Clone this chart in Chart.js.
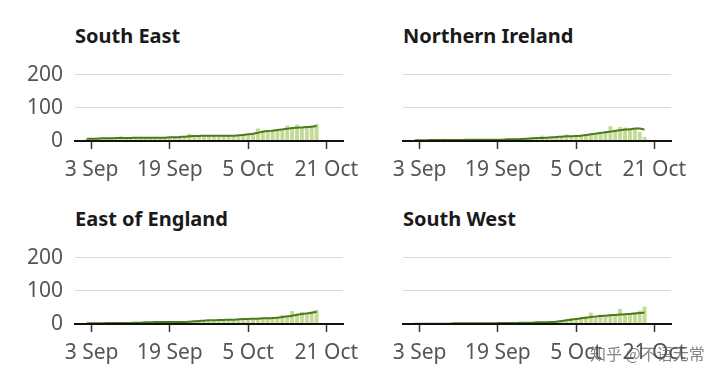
<!DOCTYPE html>
<html>
<head>
<meta charset="utf-8">
<script src="https://cdn.jsdelivr.net/npm/chart.js@4.4.0/dist/chart.umd.min.js"></script>
<style>
  body { margin: 0; background: #fff; width: 720px; height: 383px; overflow: hidden; position: relative; font-family: "Noto Sans", sans-serif; }
  .panel { position: absolute; width: 383px; height: 133px; }
  .title { position: absolute; font-size: 20px; font-weight: bold; color: #1a1a1a; line-height: 28px; white-space: nowrap; }
  .wm { position: absolute; left: 590px; top: 341px; font-family: "Noto Sans CJK SC", sans-serif; font-size: 16px; color: rgba(90,90,90,0.75); white-space: nowrap; }
</style>
</head>
<body>
<div class="title" style="left:75px;top:22px">South East</div>
<div class="title" style="left:403px;top:22px">Northern Ireland</div>
<div class="title" style="left:75px;top:205px">East of England</div>
<div class="title" style="left:403px;top:205px">South West</div>
<div class="panel" style="left:0;top:50px"><canvas id="c1"></canvas></div>
<div class="panel" style="left:328px;top:50px"><canvas id="c2"></canvas></div>
<div class="panel" style="left:0;top:233px"><canvas id="c3"></canvas></div>
<div class="panel" style="left:328px;top:233px"><canvas id="c4"></canvas></div>
<div class="wm">知乎 @不语无常</div>
<script>
// days counted from 3 Sep (day 0); first value is 2 Sep, last is 19 Oct
const days = [-1,0,1,2,3,4,5,6,7,8,9,10,11,12,13,14,15,16,17,18,19,20,21,22,23,24,25,26,27,28,29,30,31,32,33,34,35,36,37,38,39,40,41,42,43,44,45,46];

const tickDays = [0, 16, 32, 48];
const tickLabels = ['3 Sep', '19 Sep', '5 Oct', '21 Oct'];
const yTicks = [0, 100, 200];

// South East
const seDaily = [6,7,6,8,7,9,8,14,9,10, 11,9,10,12,11,12,10,11,12,13, 15,22,16,15,14,16,15,14,19,15, 14,16,17,20,24,38,32,30,31,33, 34,47,38,50,42,44,46,52];
const seAvg   = [7,7,7,8,8,8,9,9,9,9, 10,10,10,10,10,10,10,11,11,12, 13,14,15,15,16,16,16,16,16,16, 16,17,18,20,22,25,28,30,31,33, 35,37,39,40,41,42,43,45];
// Northern Ireland
const niDaily = [2,3,2,3,3,4,7,3,4,3, 4,3,4,5,4,3,4,5,4,6, 5,7,6,8,9,10,16,11,10,12, 13,19,14,15,17,20,22,24,26,30, 44,34,42,40,36,38,27,12];
const niAvg   = [2,2,2,3,3,3,3,3,3,3, 3,4,4,4,4,4,4,4,4,5, 5,5,6,7,8,9,9,10,11,12, 13,14,14,15,16,18,20,22,24,26, 28,30,32,34,35,37,37,34];
// East of England
const eeDaily = [2,3,2,3,3,2,3,4,3,3, 4,3,5,6,5,7,6,5,6,7, 6,7,8,10,9,11,12,13,12,14, 13,15,16,14,17,16,15,18,20,22, 27,24,39,30,36,33,38,42];
const eeAvg   = [2,2,2,2,3,3,3,3,3,3, 4,4,5,5,6,6,6,6,6,6, 6,7,8,9,10,11,11,12,12,13, 13,14,15,15,16,16,17,17,18,19, 21,23,25,28,30,32,34,37];
// South West
const swDaily = [1,1,2,1,2,1,2,2,1,2, 2,2,3,2,2,3,3,2,3,4, 3,4,4,5,4,6,5,7,6,8, 10,14,18,17,20,22,34,19,28,25, 30,29,45,30,32,35,40,52];
const swAvg   = [1,1,1,1,1,1,1,1,2,2, 2,2,2,2,2,2,2,3,3,3, 3,3,4,4,4,5,5,5,6,7, 9,11,13,15,17,19,21,22,24,25, 26,27,28,29,30,31,33,34];

const barColor = '#c5da96';
const lineColor = '#4a7a1c';
const labelColor = '#555555';

function pts(vals) {
  return vals.map((v, i) => ({ x: days[i], y: v }));
}

function makePanel(id, daily, avg, showY) {
  new Chart(document.getElementById(id), {
    type: 'bar',
    data: {
      datasets: [
        {
          type: 'line',
          data: pts(avg),
          borderColor: lineColor,
          borderWidth: 2,
          pointRadius: 0,
          tension: 0.3,
          order: 0
        },
        {
          type: 'bar',
          data: pts(daily),
          backgroundColor: barColor,
          categoryPercentage: 1,
          barPercentage: 0.8,
          order: 1
        }
      ]
    },
    options: {
      responsive: true,
      maintainAspectRatio: false,
      animation: false,
      layout: { padding: { top: 24, right: 40, bottom: 0, left: 0 } },
      plugins: { legend: { display: false }, tooltip: { enabled: false } },
      scales: {
        x: {
          type: 'linear',
          min: -3.4,
          max: 51.4,
          offset: false,
          afterBuildTicks: s => { s.ticks = tickDays.map(v => ({ value: v })); },
          afterFit: s => { s.height = 42; },
          ticks: {
            autoSkip: false,
            maxRotation: 0,
            padding: 8,
            color: labelColor,
            font: { family: 'Noto Sans', size: 21 },
            callback: v => tickLabels[tickDays.indexOf(v)]
          },
          grid: { offset: false, drawOnChartArea: false, drawTicks: true, tickLength: 8, tickWidth: 1.5, tickColor: '#333' },
          border: { display: true, color: '#111', width: 2, z: 2 }
        },
        y: {
          min: 0,
          max: 200,
          afterBuildTicks: s => { s.ticks = yTicks.map(v => ({ value: v })); },
          afterFit: s => { s.width = 75; },
          ticks: {
            display: showY,
            padding: 12,
            color: labelColor,
            font: { family: 'Noto Sans', size: 21 }
          },
          grid: { color: '#d9d9d9', lineWidth: 1, drawTicks: false },
          border: { display: false }
        }
      }
    }
  });
}

makePanel('c1', seDaily, seAvg, true);
makePanel('c2', niDaily, niAvg, false);
makePanel('c3', eeDaily, eeAvg, true);
makePanel('c4', swDaily, swAvg, false);
</script>
</body>
</html>
